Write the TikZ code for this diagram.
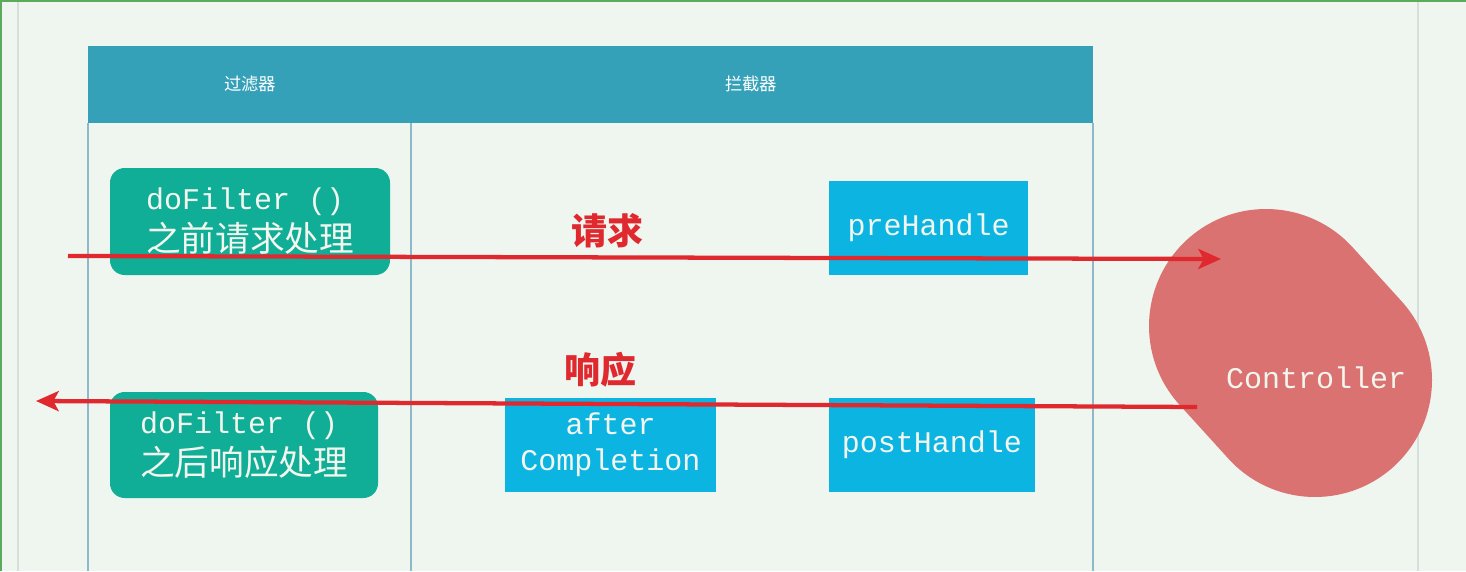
\documentclass[tikz,border=0pt]{standalone}
\usepackage{fontspec}
\usetikzlibrary{arrows.meta}
\newfontfamily\cjk{Noto Sans CJK SC}
\newfontfamily\monof{Liberation Mono}
\definecolor{bgc}{HTML}{EFF5EF}
\definecolor{hdr}{HTML}{35A1B9}
\definecolor{grn}{HTML}{10AE96}
\definecolor{blu}{HTML}{0CB4E2}
\definecolor{arr}{HTML}{E0292E}
\definecolor{ctl}{HTML}{DB7272}
\definecolor{lanel}{HTML}{8DB9CB}
\definecolor{edge}{HTML}{D6DFDA}
\definecolor{frm}{HTML}{5CAA5C}
\definecolor{boxtxt}{HTML}{F2F6EE}
\tikzset{
  greenbox/.style={fill=grn, rounded corners=11pt, inner sep=0pt, text=boxtxt, align=left,
    font=\fontsize{22.5}{29.5}\selectfont},
  bluebox/.style={fill=blu, inner sep=0pt, text=boxtxt, align=center, font=\monof\fontsize{22.5}{30}\selectfont},
  hdrlabel/.style={text=white, font=\cjk\fontsize{13}{15}\selectfont},
  flowlabel/.style={text=arr, font=\cjk\bfseries\fontsize{27}{30}\selectfont},
  lane/.style={draw=lanel, line width=1pt},
  flow/.style={draw=arr, line width=3.2pt, -{Stealth[length=17pt, width=15pt, inset=4pt]}}
}
\begin{document}
\begin{tikzpicture}[x=0.75pt,y=-0.75pt]
\useasboundingbox (0,0) rectangle (1466,571);
\fill[bgc] (0,0) rectangle (1466,571);
\draw[edge, line width=1.2pt] (18,0) -- (18,571);
\draw[edge, line width=1.2pt] (1418,0) -- (1418,571);
\draw[frm, line width=1.5pt] (0.5,571) -- (0.5,0.5) -- (1466,0.5);
% header band
\fill[hdr] (88,46) rectangle (1093,123);
\node[hdrlabel] (hf) at (250,84) {过滤器};
\node[hdrlabel] (hi) at (751,84) {拦截器};
% lane lines
\draw[lane] (88,123) -- (88,571);
\draw[lane] (411,123) -- (411,571);
\draw[lane] (1093,123) -- (1093,571);
% green boxes
\node[greenbox, minimum width=210pt, minimum height=80.25pt] (f1) at (250,221.5)
  {{\monof doFilter ()}\\[2pt]{\cjk\fontsize{26}{29.5}\selectfont 之前请求处理}};
\node[greenbox, minimum width=201pt, minimum height=79.5pt] (f2) at (244,445)
  {{\monof doFilter ()}\\[2pt]{\cjk\fontsize{26}{29.5}\selectfont 之后响应处理}};
% blue boxes
\node[bluebox, minimum width=149.25pt, minimum height=70.5pt] (pre) at (928.5,228) {preHandle};
\node[bluebox, minimum width=158.25pt, minimum height=70.5pt] (ac) at (610.5,445) {after\\[-3pt]Completion};
\node[bluebox, minimum width=154.5pt, minimum height=70.5pt] (post) at (932,445) {postHandle};
% controller blob
\draw[ctl, line width=175.5pt, line cap=round] (1266,326) -- (1315,380);
\node[text=boxtxt, font=\monof\fontsize{22.5}{30}\selectfont] (ctrl) at (1316,378) {Controller};
% labels
\node[flowlabel] (req) at (607,231) {请求};
\node[flowlabel] (resp) at (600,370) {响应};
% arrows
\coordinate (a1s) at (68,256);
\coordinate (a1e) at (1221,259);
\coordinate (a2s) at (1197,407);
\coordinate (a2e) at (36,401);
\draw[flow] (a1s) -- (a1e);
\draw[flow] (a2s) -- (a2e);
\end{tikzpicture}
\end{document}
